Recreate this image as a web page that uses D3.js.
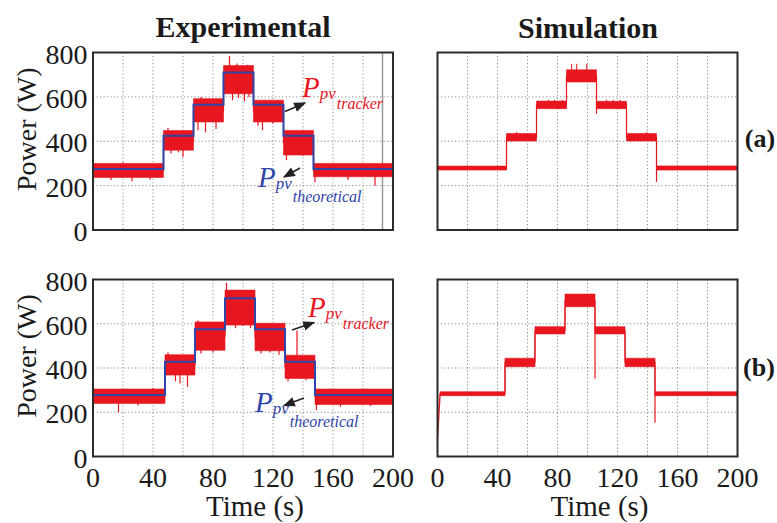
<!DOCTYPE html>
<html>
<head>
<meta charset="utf-8">
<script src="https://cdn.jsdelivr.net/npm/d3@7"></script>
<style>
  body { margin: 0; background: #fff; }
</style>
</head>
<body>
<div id="chart"></div>
<script>
// PV power tracking: experimental vs simulation, two test profiles (a) and (b)

const xTicks = [0, 40, 80, 120, 160, 200];
const yTicks = [0, 200, 400, 600, 800];

// (a) experimental
const stepsExpA = [0, 47, 67, 87, 107, 127, 147, 200];
const theoA = [275, 425, 565, 710, 565, 425, 275];
const trackLoA = [237, 360, 487, 614, 487, 338, 240];
const trackHiA = [300, 448, 592, 741, 585, 449, 300];
const spikesExpA = [[12, 225], [20, 305], [26, 220], [38, 228], [50, 460], [52, 345], [57, 350], [60, 330],
  [70, 450], [72, 600], [75, 440], [82, 455], [91, 785], [93, 585], [96, 750], [97, 595], [101, 580],
  [103, 745], [104, 600], [110, 470], [113, 450], [120, 480], [129, 315], [133, 340], [140, 335],
  [148, 215], [170, 225], [188, 200]];
const cursorA = 193;

// (b) experimental
const stepsExpB = [0, 48, 68, 88, 108, 128, 148, 200];
const theoB = [278, 428, 575, 715, 575, 428, 278];
const trackLoB = [240, 368, 480, 594, 478, 353, 235];
const trackHiB = [305, 460, 608, 752, 602, 458, 305];
const spikesExpB = [[17, 200], [30, 230], [40, 310], [50, 470], [55, 340], [58, 330], [63, 315],
  [70, 615], [72, 465], [80, 470], [89, 785], [95, 580], [100, 590], [105, 580], [112, 465],
  [118, 470], [124, 460], [130, 340], [136, 570], [142, 345], [149, 210], [165, 225], [185, 228]];

// (a) simulation
const stepsSimA = [0, 46, 66, 86, 106, 126, 146, 200];
const simLoA = [270, 401, 547, 667, 547, 401, 270];
const simHiA = [288, 435, 581, 722, 580, 435, 289];
const dipsSimA = [[106, 524], [146, 217]];
const ripplesSimA = [[52.8, 442], [74, 587], [78, 587], [83, 587], [89.4, 749], [92.8, 749], [99.5, 749],
  [112.8, 587], [117.2, 587], [121.7, 587], [139.5, 442]];

// (b) simulation
const stepsSimB = [1.7, 45, 65, 85, 105, 125, 145, 200];
const simLoB = [275, 406, 554, 677, 554, 406, 275];
const simHiB = [293, 444, 587, 734, 587, 444, 293];
const startSimB = [[0, 80], [1.7, 284]];
const dipsSimB = [[105, 353], [145, 153]];

const RED = '#e8161f';
const BLUE = '#2f45a8';
const FONT = '"Liberation Serif", "Times New Roman", serif';

const W = 777, H = 523;
const svg = d3.select('#chart').append('svg')
  .attr('width', W).attr('height', H)
  .attr('font-family', FONT);

svg.append('defs').append('marker')
  .attr('id', 'arr')
  .attr('viewBox', '0 0 10 10')
  .attr('refX', 9).attr('refY', 5)
  .attr('markerWidth', 8).attr('markerHeight', 8)
  .attr('orient', 'auto')
  .append('path').attr('d', 'M0,1 L10,5 L0,9 Z').attr('fill', '#222');

function segPoints(steps, lo, hi) {
  const pts = [];
  lo.forEach((l, i) => {
    pts.push({ t: steps[i], lo: l, hi: hi[i] });
    pts.push({ t: steps[i + 1], lo: l, hi: hi[i] });
  });
  return pts;
}

function makePanel(box, opts) {
  const x = d3.scaleLinear().domain([0, 200]).range([box.x0, box.x1]);
  const y = d3.scaleLinear().domain([0, 800]).range([box.y1, box.y0]);
  const g = svg.append('g');

  // dotted grid
  g.selectAll('.vg').data(d3.range(20, 200, 20)).enter().append('line')
    .attr('x1', d => x(d)).attr('x2', d => x(d))
    .attr('y1', box.y0).attr('y2', box.y1)
    .attr('stroke', '#8c8c8c').attr('stroke-width', 1).attr('stroke-dasharray', '1.2,2.3');
  g.selectAll('.hg').data([200, 400, 600]).enter().append('line')
    .attr('x1', box.x0).attr('x2', box.x1)
    .attr('y1', d => y(d)).attr('y2', d => y(d))
    .attr('stroke', '#8c8c8c').attr('stroke-width', 1).attr('stroke-dasharray', '1.2,2.3');

  if (opts.cursor != null) {
    g.append('line')
      .attr('x1', x(opts.cursor)).attr('x2', x(opts.cursor))
      .attr('y1', box.y0).attr('y2', box.y1)
      .attr('stroke', '#9a9a9a').attr('stroke-width', 1.5);
  }

  const pts = segPoints(opts.steps, opts.lo, opts.hi);
  const mid = d => (d.lo + d.hi) / 2;

  // spikes / ripples / dips
  if (opts.spikes) {
    g.selectAll('.sp').data(opts.spikes).enter().append('line')
      .attr('x1', d => x(d[0])).attr('x2', d => x(d[0]))
      .attr('y1', d => {
        const i = d3.bisectRight(opts.steps, d[0]) - 1;
        return y((opts.lo[i] + opts.hi[i]) / 2);
      })
      .attr('y2', d => y(d[1]))
      .attr('stroke', RED).attr('stroke-width', opts.spikeWidth || 1.2);
  }
  if (opts.dips) {
    g.selectAll('.dp').data(opts.dips).enter().append('line')
      .attr('x1', d => x(d[0])).attr('x2', d => x(d[0]))
      .attr('y1', d => {
        const i = d3.bisectRight(opts.steps, d[0]) - 1;
        return y(opts.hi[i]);
      })
      .attr('y2', d => y(d[1]))
      .attr('stroke', RED).attr('stroke-width', 1.2);
  }

  // band
  g.append('path').datum(pts)
    .attr('d', d3.area().x(d => x(d.t)).y0(d => y(d.lo)).y1(d => y(d.hi)))
    .attr('fill', RED).attr('stroke', RED).attr('stroke-width', 0.6);
  g.append('path').datum(pts)
    .attr('d', d3.line().x(d => x(d.t)).y(d => y(mid(d))))
    .attr('fill', 'none').attr('stroke', RED).attr('stroke-width', 1.2);

  if (opts.start) {
    g.append('path').datum(opts.start)
      .attr('d', d3.line().x(d => x(d[0])).y(d => y(d[1])))
      .attr('fill', 'none').attr('stroke', RED).attr('stroke-width', 1.4);
  }

  // theoretical step
  if (opts.theo) {
    const tp = [];
    opts.theo.forEach((v, i) => { tp.push([opts.steps[i], v]); tp.push([opts.steps[i + 1], v]); });
    g.append('path').datum(tp)
      .attr('d', d3.line().x(d => x(d[0])).y(d => y(d[1])))
      .attr('fill', 'none').attr('stroke', BLUE).attr('stroke-width', 2);
  }

  // frame
  g.append('rect')
    .attr('x', box.x0).attr('y', box.y0)
    .attr('width', box.x1 - box.x0).attr('height', box.y1 - box.y0)
    .attr('fill', 'none').attr('stroke', '#2b2b2b').attr('stroke-width', 2);

  if (opts.yLabels) {
    g.selectAll('.yt').data(yTicks).enter().append('text')
      .attr('x', box.x0 - 5.5).attr('y', d => y(d) + 11)
      .attr('text-anchor', 'end').attr('font-size', 28).attr('fill', '#1a1a1a')
      .text(d => d);
    g.append('text')
      .attr('transform', `translate(36,${(box.y0 + box.y1) / 2 - 12}) rotate(-90)`)
      .attr('text-anchor', 'middle').attr('font-size', 28).attr('fill', '#1a1a1a')
      .text('Power (W)');
  }
  if (opts.xLabels) {
    g.selectAll('.xt').data(xTicks).enter().append('text')
      .attr('x', d => x(d)).attr('y', box.y1 + 30)
      .attr('text-anchor', 'middle').attr('font-size', 28).attr('fill', '#1a1a1a')
      .text(d => d);
    g.append('text')
      .attr('x', (box.x0 + box.x1) / 2 + 12).attr('y', 516)
      .attr('text-anchor', 'middle').attr('font-size', 29).attr('fill', '#1a1a1a')
      .text('Time (s)');
  }
  return { x, y };
}

const boxTL = { x0: 93, x1: 393, y0: 52.5, y1: 230 };
const boxTR = { x0: 437.5, x1: 737.5, y0: 52.5, y1: 230 };
const boxBL = { x0: 93, x1: 393, y0: 279.5, y1: 456.5 };
const boxBR = { x0: 437.5, x1: 737.5, y0: 279.5, y1: 456.5 };

makePanel(boxTL, { steps: stepsExpA, lo: trackLoA, hi: trackHiA, theo: theoA, spikes: spikesExpA, cursor: cursorA, yLabels: true });
makePanel(boxTR, { steps: stepsSimA, lo: simLoA, hi: simHiA, dips: dipsSimA, spikes: ripplesSimA, spikeWidth: 1 });
makePanel(boxBL, { steps: stepsExpB, lo: trackLoB, hi: trackHiB, theo: theoB, spikes: spikesExpB, yLabels: true, xLabels: true });
makePanel(boxBR, { steps: stepsSimB, lo: simLoB, hi: simHiB, dips: dipsSimB, start: startSimB, xLabels: true });

// titles
svg.append('text').attr('x', 243).attr('y', 37).attr('text-anchor', 'middle').attr('fill', '#1a1a1a')
  .attr('font-size', 30).attr('font-weight', 'bold').text('Experimental');
svg.append('text').attr('x', 588).attr('y', 38).attr('text-anchor', 'middle').attr('fill', '#1a1a1a')
  .attr('font-size', 30).attr('font-weight', 'bold').text('Simulation');
svg.append('text').attr('x', 760).attr('y', 147).attr('text-anchor', 'middle').attr('fill', '#1a1a1a')
  .attr('font-size', 26).attr('font-weight', 'bold').text('(a)');
svg.append('text').attr('x', 759).attr('y', 376).attr('text-anchor', 'middle').attr('fill', '#1a1a1a')
  .attr('font-size', 26).attr('font-weight', 'bold').text('(b)');

// curve labels
function curveLabel(px, py, sub, color, subDy) {
  const t = svg.append('text').attr('x', px).attr('y', py).attr('font-style', 'italic').attr('fill', color);
  t.append('tspan').attr('font-size', 29).text('P');
  t.append('tspan').attr('font-size', 17).attr('dy', 2).text('pv');
  t.append('tspan').attr('font-size', 16).attr('dx', 1).attr('dy', subDy).text(sub);
}
curveLabel(302, 97, 'tracker', RED, 10);
curveLabel(258, 187, 'theoretical', BLUE, 13);
curveLabel(308, 317, 'tracker', RED, 10);
curveLabel(255, 412, 'theoretical', BLUE, 13);

const arrows = [[285, 111.5, 305, 103], [300, 168, 284, 177], [292, 330, 314, 322.5], [304, 398, 284, 405.5]];
svg.selectAll('.arrow').data(arrows).enter().append('line')
  .attr('x1', d => d[0]).attr('y1', d => d[1]).attr('x2', d => d[2]).attr('y2', d => d[3])
  .attr('stroke', '#222').attr('stroke-width', 1.5).attr('marker-end', 'url(#arr)');
</script>
</body>
</html>
